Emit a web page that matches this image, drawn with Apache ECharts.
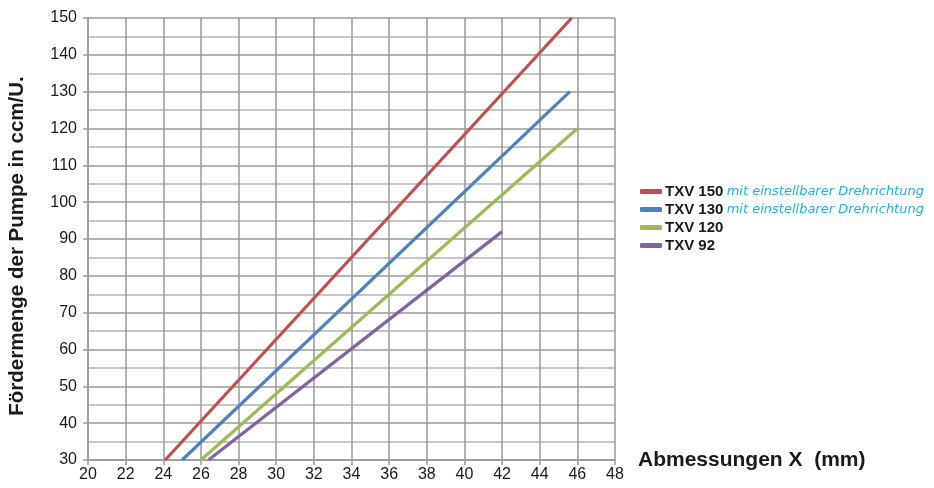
<!DOCTYPE html>
<html><head><meta charset="utf-8">
<script src="https://cdn.jsdelivr.net/npm/echarts@6/dist/echarts.min.js"></script>
<style>html,body{margin:0;padding:0;background:#fff}#c{width:934px;height:488px}</style>
</head><body><div id="c"></div>
<script>
const seriesNames = ['TXV 150', 'TXV 130', 'TXV 120', 'TXV 92'];
const txv150 = [[24.1, 30], [45.7, 150]];
const txv130 = [[25.0, 30], [45.6, 130]];
const txv120 = [[26.0, 30], [46.0, 120]];
const txv92 = [[26.4, 30], [42.0, 92]];
const colors = ['#c0504d', '#4f81bd', '#9bbb59', '#8064a2'];
const notes = ['mit einstellbarer Drehrichtung', 'mit einstellbarer Drehrichtung', '', ''];
const xMin = 20, xMax = 48, xStep = 2;
const yMin = 30, yMax = 150, yStep = 10;
const yTitle = 'Fördermenge der Pumpe in ccm/U.';

const chart = echarts.init(document.getElementById('c'));
const data = [txv150, txv130, txv120, txv92];
const gridColor = '#9a9a9a';
chart.setOption({
  animation: false,
  textStyle: { fontFamily: 'Liberation Sans, Arial, sans-serif' },
  grid: { left: 88, right: 319, top: 18, bottom: 28, containLabel: false, outerBoundsMode: 'none' },
  graphic: [{
    type: 'text', x: 17, y: 246, rotation: Math.PI / 2,
    style: { text: yTitle, fontSize: 20.5, fontWeight: 'bold', fill: '#1a1a1a',
      fontFamily: 'Liberation Sans, Arial', align: 'center', verticalAlign: 'middle' }
  }],
  legend: {
    orient: 'vertical', left: 640, top: 184, itemGap: 3, padding: 0,
    itemWidth: 22, itemHeight: 5, icon: 'roundRect',
    data: seriesNames,
    formatter: function (n) {
      const i = seriesNames.indexOf(n);
      return notes[i] ? '{a|' + n + '} {b|' + notes[i] + '}' : '{a|' + n + '}';
    },
    textStyle: {
      padding: [0, 0, 0, -2],
      rich: {
        a: { fontSize: 15, fontWeight: 'bold', color: '#1a1a1a', fontFamily: 'Liberation Sans, Arial' },
        b: { fontSize: 13, fontStyle: 'italic', color: '#1fb0f0', fontFamily: 'DejaVu Sans' }
      }
    }
  },
  xAxis: {
    type: 'value', min: xMin, max: xMax, interval: xStep,
    name: 'Abmessungen X  (mm)', nameLocation: 'end', nameGap: 23,
    nameTextStyle: { fontSize: 21, fontWeight: 'bold', color: '#1a1a1a', verticalAlign: 'middle', align: 'left', padding: [2, 0, 0, 0] },
    axisLine: { show: true, lineStyle: { color: gridColor, width: 1.5 } },
    axisTick: { show: true, length: 5, lineStyle: { color: gridColor, width: 1.5 } },
    axisLabel: { fontSize: 16, color: '#1a1a1a', margin: 7 },
    splitLine: { show: true, lineStyle: { color: gridColor, width: 1.5 } }
  },
  yAxis: {
    type: 'value', min: yMin, max: yMax, interval: yStep,
    axisLine: { show: true, lineStyle: { color: gridColor, width: 1.5 } },
    axisTick: { show: true, length: 5, lineStyle: { color: gridColor, width: 1.5 } },
    axisLabel: { fontSize: 16, color: '#1a1a1a', margin: 11 },
    splitLine: { show: true, lineStyle: { color: gridColor, width: 1.5 } },
    minorTick: { show: false, splitNumber: 2 },
    minorSplitLine: { show: true, lineStyle: { color: '#b4b4b4', width: 1.5 } }
  },
  series: seriesNames.map((n, i) => ({
    name: n, type: 'line', data: data[i], showSymbol: false, symbol: 'none',
    lineStyle: { color: colors[i], width: 3.2 }, itemStyle: { color: colors[i] },
    z: 10 - i
  }))
});
</script></body></html>
